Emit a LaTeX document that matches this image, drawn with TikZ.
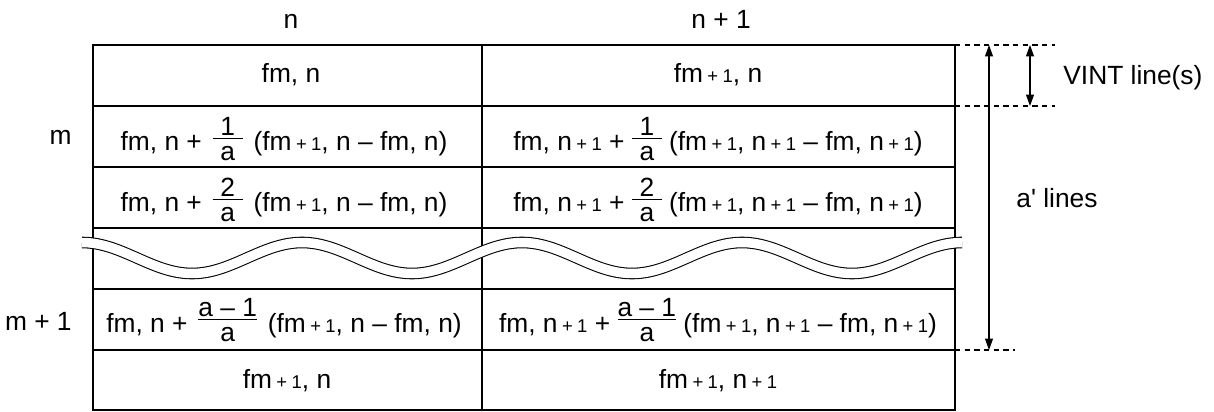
\documentclass[tikz,border=0pt]{standalone}
\usepackage{fontspec}
\setmainfont{Liberation Sans}
\usetikzlibrary{arrows.meta}
\newcommand{\fsmain}{\fontsize{15}{18}\selectfont}
% small "+ 1" after fm and n
\newcommand{\pone}{\kern2.5pt{\fontsize{10.5}{10.5}\selectfont+\kern2.5pt1}}
% stacked fraction: numerator, bar, denominator
\newcommand{\frc}[2]{\raisebox{-0.36em}{\vbox{\offinterlineskip
  \halign{\hfil##\hfil\cr #1\cr\noalign{\kern1.5pt\hrule height0.7pt\kern4pt}#2\cr}}}}
\newcommand{\dg}[1]{\makebox[0.6cm]{#1}}

\begin{document}
\begin{tikzpicture}[x=0.02cm,y=-0.02cm,
  frame/.style={line width=1.6pt},
  grid/.style={line width=0.8pt},
  guide/.style={line width=0.6pt,dash pattern=on 3pt off 2.5pt},
  dim/.style={{Triangle[length=6.5pt,width=4.5pt]}-{Triangle[length=6.5pt,width=4.5pt]},line width=0.7pt},
  wave/.style={line width=0.6pt,double=white,double distance=0.19cm},
  cell/.style={anchor=base,inner sep=0pt,font=\fsmain},
  lbl/.style={inner sep=0pt,font=\fsmain}
]
\useasboundingbox (0,0) rectangle (1214,412);

% table
\coordinate (tl) at (93,45);
\coordinate (br) at (955,410);
\foreach \y in {106,167,228,289,350}
  \draw[grid] (93,\y) -- (955,\y);
\draw[grid] (482,45) -- (482,410);
\draw[frame] (tl) rectangle (br);

% break mark
\draw[wave] (82,242.5) \foreach \k in {0,...,3}{
  cos ++(55,15.5) sin ++(55,15.5) cos ++(55,-15.5) sin ++(55,-15.5)};

% headers
\node[lbl,anchor=base] (coln) at (291,29) {n};
\node[lbl,anchor=base] (colnn) at (721,29) {n + 1};
\node[lbl,anchor=base east] (rowm) at (72,145) {m};
\node[lbl,anchor=base east] (rowmm) at (72,330) {m + 1};

% cells
\node[cell] (a1) at (291,83) {fm, n};
\node[cell] (b1) at (718,83) {fm\pone, n};
\node[cell] (a2) at (284,151) {fm, n + \kern2pt\frc{\dg{1}}{a}\kern2pt\ (fm\pone, n -- fm, n)};
\node[cell] (b2) at (718,151) {fm, n\pone{} + \frc{\dg{1}}{a} (fm\pone, n\pone{} -- fm, n\pone)};
\node[cell] (a3) at (284,212) {fm, n + \kern2pt\frc{\dg{2}}{a}\kern2pt\ (fm\pone, n -- fm, n)};
\node[cell] (b3) at (718,212) {fm, n\pone{} + \frc{\dg{2}}{a} (fm\pone, n\pone{} -- fm, n\pone)};
\node[cell] (a5) at (284,332) {fm, n + \kern2pt\frc{a -- 1}{a}\kern2pt\ (fm\pone, n -- fm, n)};
\node[cell] (b5) at (718,332) {fm, n\pone{} + \frc{a -- 1}{a} (fm\pone, n\pone{} -- fm, n\pone)};
\node[cell] (a6) at (287,388) {fm\pone, n};
\node[cell] (b6) at (718,388) {fm\pone, n\pone};

% dimension marks
\coordinate (t1) at (955,45);
\coordinate (t2) at (1055,45);
\coordinate (m1) at (955,106);
\coordinate (m2) at (1055,106);
\coordinate (e1) at (955,350);
\coordinate (e2) at (1015,350);
\draw[guide] (t1) -- (t2);
\draw[guide] (m1) -- (m2);
\draw[guide] (e1) -- (e2);
\coordinate (at) at (989,45);
\coordinate (ab) at (989,350);
\coordinate (vt) at (1030,45);
\coordinate (vb) at (1030,106);
\draw[dim] (at) -- (ab);
\draw[dim] (vt) -- (vb);
\node[lbl,anchor=west] (vint) at (1063,78) {VINT line(s)};
\node[lbl] (alines) at (1057,198) {a\textquotesingle{} lines};
\end{tikzpicture}
\end{document}
